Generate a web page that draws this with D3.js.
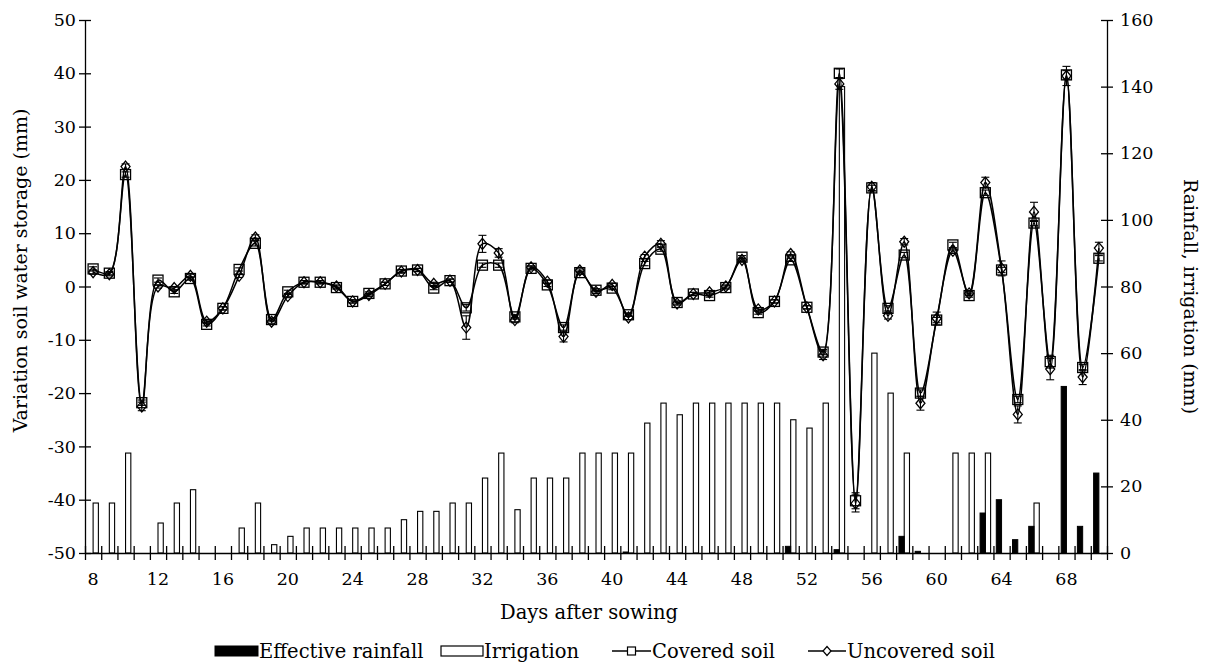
<!DOCTYPE html>
<html>
<head>
<meta charset="utf-8">
<script src="https://cdn.jsdelivr.net/npm/d3@7"></script>
<style>
  body { margin: 0; background: #fff; }
  text { font-family: "DejaVu Serif", serif; fill: #000; }
</style>
</head>
<body>
<div class="canvas"></div>
<script>
// Categories: days after sowing
const days = [8, 9, 10, 11, 12, 13, 14, 15, 16, 17, 18, 19, 20, 21, 22, 23, 24, 25, 26, 27,
    28, 29, 30, 31, 32, 33, 34, 35, 36, 37, 38, 39, 40, 41, 42, 43, 44, 45, 46, 47,
    48, 49, 50, 51, 52, 53, 54, 55, 56, 57, 58, 59, 60, 61, 62, 63, 64, 65, 66, 67,
    68, 69, 70];
const dayLabels = [8, 12, 16, 20, 24, 28, 32, 36, 40, 44, 48, 52, 56, 60, 64, 68];

// Bars (right axis, mm)
const irrigation = [15, 15, 30, 0, 9, 15, 19, 0, 0, 7.5, 15, 2.5, 5, 7.5, 7.5, 7.5, 7.5, 7.5, 7.5, 10,
    12.5, 12.5, 15, 15, 22.5, 30, 13, 22.5, 22.5, 22.5, 30, 30, 30, 30, 39, 45, 41.5, 45, 45, 45,
    45, 45, 45, 40, 37.5, 45, 140, 0, 60, 48, 30, 0, 0, 30, 30, 30, 0, 0, 15, 0,
    0, 0, 0];
const rainfall = [0, 0, 0, 0, 0, 0, 0, 0, 0, 0, 0, 0, 0, 0, 0, 0, 0, 0, 0, 0,
    0, 0, 0, 0, 0, 0, 0, 0, 0, 0, 0, 0, 0, 0.3, 0, 0, 0, 0, 0, 0,
    0, 0, 0, 2, 0, 0, 1, 0, 0, 0, 5, 0.5, 0, 0, 0, 12, 16, 4, 8, 0,
    50, 8, 24];

// Soil water storage variation (left axis, mm)
const covered = [3.3, 2.5, 21, -21.8, 1.2, -1.0, 1.5, -7.1, -4.1, 3.2, 8.1, -6.2, -1.0, 0.8, 0.8, -0.2, -2.8, -1.3, 0.5, 2.9,
    3.1, -0.3, 1.1, -4.0, 4.0, 4.0, -5.7, 3.4, 0.3, -7.7, 2.6, -0.7, -0.3, -5.3, 4.3, 7.0, -3.0, -1.4, -1.7, -0.2,
    5.5, -4.9, -2.8, 5.0, -3.9, -12.3, 40, -40.2, 18.5, -4.1, 5.9, -20.0, -6.3, 7.8, -1.7, 17.6, 3.1, -21.2, 11.9, -14.1,
    39.7, -15.2, 5.3];
const uncovered = [2.7, 2.3, 22.5, -22.5, 0, -0.3, 2.0, -6.6, -4.1, 2.0, 9.2, -6.6, -1.8, 0.8, 0.8, 0, -2.8, -1.6, 0.5, 2.8,
    3.1, 0.5, 1.1, -7.7, 8.0, 6.3, -6.3, 3.6, 0.9, -9.4, 3.0, -1.0, 0.3, -5.8, 5.6, 8.0, -3.2, -1.4, -1.1, 0,
    5.0, -4.3, -2.8, 6.1, -3.9, -12.9, 38, -40.7, 18.7, -5.5, 8.4, -21.9, -6.0, 6.7, -1.3, 19.5, 3.4, -24.0, 14.0, -15.5,
    39.5, -17.0, 7.2];
const coveredErr = [0.4, 0.3, 0.5, 0.5, 0.4, 0.3, 0.3, 0.3, 0.3, 0.3, 0.5, 0.3, 0.3, 0.3, 0.3, 0.3, 0.3, 0.3, 0.3, 0.3,
    0.3, 0.3, 0.3, 0.6, 0.4, 0.4, 0.4, 0.3, 0.3, 0.5, 0.3, 0.3, 0.3, 0.3, 0.4, 0.4, 0.3, 0.3, 0.3, 0.3,
    0.3, 0.3, 0.3, 0.3, 0.3, 0.5, 0.8, 1.5, 0.5, 0.5, 0.5, 0.6, 0.5, 0.5, 0.3, 0.5, 0.5, 0.6, 0.5, 1.2,
    0.8, 0.6, 0.5];
const uncoveredErr = [0.4, 0.3, 0.5, 0.8, 0.3, 0.3, 0.3, 0.3, 0.3, 0.3, 0.5, 0.3, 0.3, 0.3, 0.3, 0.3, 0.3, 0.3, 0.3, 0.3,
    0.3, 0.3, 0.3, 2.2, 1.6, 0.8, 0.5, 0.3, 0.3, 1.0, 0.3, 0.3, 0.3, 0.4, 0.4, 0.6, 0.3, 0.3, 0.3, 0.3,
    0.3, 0.3, 0.3, 0.4, 0.3, 0.8, 1.0, 1.6, 0.8, 0.6, 0.6, 1.3, 1.2, 0.5, 0.4, 1.0, 1.4, 1.6, 1.8, 2.0,
    1.8, 1.4, 1.1];

const leftTicks = [-50, -40, -30, -20, -10, 0, 10, 20, 30, 40, 50];
const rightTicks = [0, 20, 40, 60, 80, 100, 120, 140, 160];

// Dimensions
const dims = { width: 1210, height: 662, left: 85, right: 1107, top: 20, bottom: 553 };

const svg = d3.select('.canvas')
    .append('svg')
    .attr('width', dims.width)
    .attr('height', dims.height);

// Scales
const x = d3.scaleBand()
    .domain(days)
    .range([dims.left, dims.right])
    .paddingInner(0.35)
    .paddingOuter(0.175);
const xSub = d3.scaleBand()
    .domain(['rain', 'irr'])
    .range([0, x.bandwidth()]);
const xEdge = d3.scaleLinear()
    .domain([days[0] - 0.5, days[days.length - 1] + 0.5])
    .range([dims.left, dims.right]);
const cx = d => x(d) + x.bandwidth() / 2;

const yL = d3.scaleLinear().domain([-50, 50]).range([dims.bottom, dims.top]);
const yR = d3.scaleLinear().domain([0, 160]).range([dims.bottom, dims.top]);

// Bars
const barData = days.map((d, i) => ({ day: d, rain: rainfall[i], irr: irrigation[i] }));
const bars = svg.append('g');
bars.selectAll('rect.irr')
    .data(barData.filter(d => d.irr > 0))
    .enter()
    .append('rect')
        .attr('class', 'irr')
        .attr('x', d => x(d.day) + xSub('irr'))
        .attr('width', xSub.bandwidth())
        .attr('y', d => yR(d.irr))
        .attr('height', d => yR(0) - yR(d.irr))
        .attr('fill', 'white')
        .attr('stroke', 'black')
        .attr('stroke-width', 1.1);
bars.selectAll('rect.rain')
    .data(barData.filter(d => d.rain > 0))
    .enter()
    .append('rect')
        .attr('class', 'rain')
        .attr('x', d => x(d.day) + xSub('rain'))
        .attr('width', xSub.bandwidth())
        .attr('y', d => yR(d.rain))
        .attr('height', d => yR(0) - yR(d.rain))
        .attr('fill', 'black')
        .attr('stroke', 'black')
        .attr('stroke-width', 1);

// Axes
const xTicks = svg.append('g')
    .attr('transform', `translate(0, ${dims.bottom})`)
    .call(d3.axisBottom(xEdge)
        .tickValues(d3.range(days.length + 1).map(i => days[0] - 0.5 + i))
        .tickSizeOuter(0)
        .tickSizeInner(7)
        .tickFormat(''));
xTicks.selectAll('.tick line').attr('y1', -7);

const xLabels = svg.append('g')
    .attr('transform', `translate(0, ${dims.bottom})`)
    .call(d3.axisBottom(x).tickValues(dayLabels).tickSize(0).tickPadding(20));
xLabels.select('.domain').remove();

const leftAxis = svg.append('g')
    .attr('transform', `translate(${dims.left}, 0)`)
    .call(d3.axisLeft(yL).tickValues(leftTicks).tickSizeOuter(0).tickSizeInner(6).tickPadding(3)
        .tickFormat(d => String(d)));
leftAxis.selectAll('.tick line').attr('x1', 6);

const rightAxis = svg.append('g')
    .attr('transform', `translate(${dims.right}, 0)`)
    .call(d3.axisRight(yR).tickValues(rightTicks).tickSizeOuter(0).tickSizeInner(6).tickPadding(7));
rightAxis.selectAll('.tick line').attr('x1', -6);

svg.selectAll('.tick text').style('font-size', '17.5px').style('font-family', '"DejaVu Serif", serif');
svg.selectAll('.domain, .tick line').attr('stroke', 'black').attr('stroke-width', 1.3);

// Lines
const series = [
    { name: 'uncovered', values: uncovered, err: uncoveredErr },
    { name: 'covered', values: covered, err: coveredErr }
];
const line = d3.line()
    .x(d => cx(d.day))
    .y(d => yL(d.v))
    .curve(d3.curveCatmullRom.alpha(0.5));

series.forEach(s => {
    const pts = days.map((d, i) => ({ day: d, v: s.values[i], e: s.err[i] }));
    const g = svg.append('g');

    g.append('path')
        .datum(pts)
        .attr('d', line)
        .attr('fill', 'none')
        .attr('stroke', 'black')
        .attr('stroke-width', 1.5);

    // error bars
    const eb = g.selectAll('g.err').data(pts).enter().append('g')
        .attr('stroke', 'black').attr('stroke-width', 1.1);
    eb.append('line')
        .attr('x1', d => cx(d.day)).attr('x2', d => cx(d.day))
        .attr('y1', d => yL(d.v - d.e)).attr('y2', d => yL(d.v + d.e));
    eb.append('line')
        .attr('x1', d => cx(d.day) - 4).attr('x2', d => cx(d.day) + 4)
        .attr('y1', d => yL(d.v + d.e)).attr('y2', d => yL(d.v + d.e));
    eb.append('line')
        .attr('x1', d => cx(d.day) - 4).attr('x2', d => cx(d.day) + 4)
        .attr('y1', d => yL(d.v - d.e)).attr('y2', d => yL(d.v - d.e));

    // markers
    if (s.name === 'covered') {
        g.selectAll('rect.m').data(pts).enter().append('rect')
            .attr('x', d => cx(d.day) - 5)
            .attr('y', d => yL(d.v) - 5)
            .attr('width', 10).attr('height', 10)
            .attr('fill', 'none').attr('stroke', 'black').attr('stroke-width', 1.3);
    } else {
        g.selectAll('path.m').data(pts).enter().append('path')
            .attr('d', d => {
                const px = cx(d.day), py = yL(d.v);
                return `M${px},${py - 5.5}L${px + 4.5},${py}L${px},${py + 5.5}L${px - 4.5},${py}Z`;
            })
            .attr('fill', 'none').attr('stroke', 'black').attr('stroke-width', 1.3);
    }
});

// Axis titles
svg.append('text')
    .attr('transform', `translate(27, ${(dims.top + dims.bottom) / 2 - 16}) rotate(-90)`)
    .attr('text-anchor', 'middle')
    .style('font-size', '19px')
    .text('Variation soil water storage (mm)');
svg.append('text')
    .attr('transform', `translate(1184, ${(dims.top + dims.bottom) / 2 + 10}) rotate(90)`)
    .attr('text-anchor', 'middle')
    .style('font-size', '19px')
    .text('Rainfall, irrigation (mm)');
svg.append('text')
    .attr('x', 589)
    .attr('y', 619)
    .attr('text-anchor', 'middle')
    .style('font-size', '19.5px')
    .text('Days after sowing');

// Legend
const legend = svg.append('g').attr('transform', 'translate(0, 651)');
legend.append('rect').attr('x', 215).attr('y', -5).attr('width', 43).attr('height', 10)
    .attr('fill', 'black').attr('stroke', 'black');
legend.append('text').attr('x', 259).attr('y', 6.5).style('font-size', '19.5px').text('Effective rainfall');
legend.append('rect').attr('x', 441).attr('y', -5).attr('width', 42).attr('height', 10)
    .attr('fill', 'white').attr('stroke', 'black').attr('stroke-width', 1.2);
legend.append('text').attr('x', 484).attr('y', 6.5).style('font-size', '19.5px').text('Irrigation');
legend.append('line').attr('x1', 612).attr('x2', 651).attr('y1', 0).attr('y2', 0)
    .attr('stroke', 'black').attr('stroke-width', 1.3);
legend.append('rect').attr('x', 627.5).attr('y', -4).attr('width', 8).attr('height', 8)
    .attr('fill', 'white').attr('stroke', 'black').attr('stroke-width', 1.2);
legend.append('text').attr('x', 652).attr('y', 6.5).style('font-size', '19.5px').text('Covered soil');
legend.append('line').attr('x1', 808).attr('x2', 846).attr('y1', 0).attr('y2', 0)
    .attr('stroke', 'black').attr('stroke-width', 1.3);
legend.append('path').attr('d', 'M827,-4.5L831,0L827,4.5L823,0Z')
    .attr('fill', 'white').attr('stroke', 'black').attr('stroke-width', 1.2);
legend.append('text').attr('x', 847).attr('y', 6.5).style('font-size', '19.5px').text('Uncovered soil');
</script>
</body>
</html>
